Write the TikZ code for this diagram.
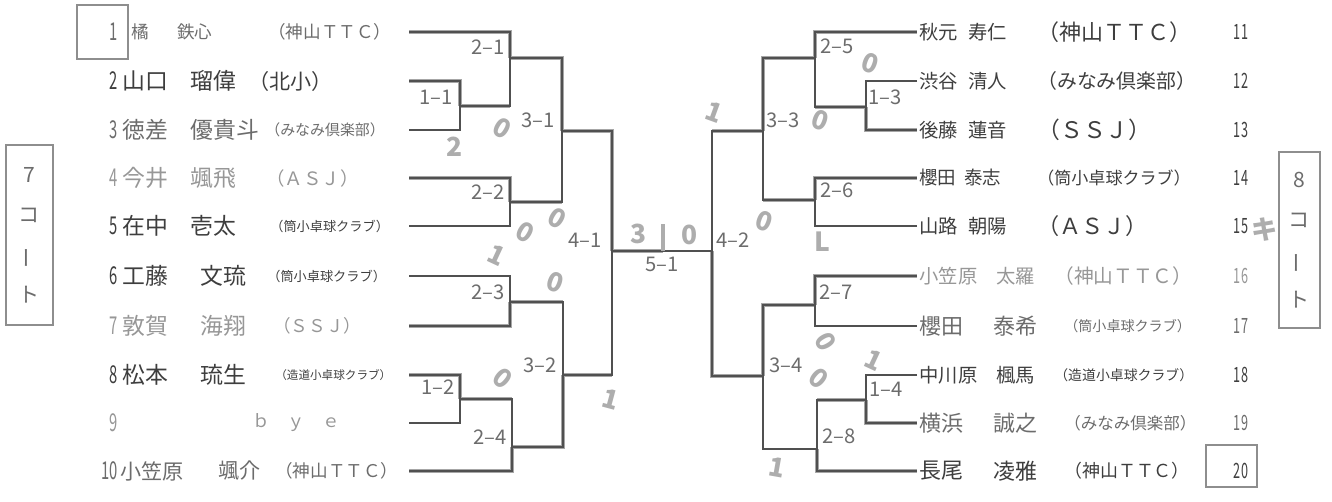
\documentclass[tikz,border=0pt]{standalone}
\usepackage{graphicx}
\usepackage{fontspec}
\setmainfont{Noto Sans CJK JP}
\usetikzlibrary{positioning}
\definecolor{inkdark}{HTML}{3E3E3E}
\definecolor{inkmid}{HTML}{6C6C6C}
\definecolor{inklight}{HTML}{979797}
\definecolor{rulegray}{HTML}{505050}
\definecolor{hilite}{HTML}{A6A6A6}
\definecolor{pencil}{HTML}{ADADAD}
\definecolor{boxgray}{HTML}{8E8E8E}
\newcommand{\condensed}[1]{\scalebox{0.6}[1]{#1}}
\newcommand{\fs}[1]{\fontsize{#1}{#1}\selectfont}
\tikzset{
  bracket/.style={draw=rulegray, line width=0.8pt},
  winpath/.style={draw=hilite, line width=2.8pt},
  entry/.style={anchor=west, inner sep=0pt},
  seednum/.style={inner sep=0pt},
  matchno/.style={inner sep=0pt, text=inkmid, font=\fs{11.5}},
  handmark/.style={inner sep=0pt, text=pencil, font=\fs{15}\bfseries},
  courtbox/.style={draw=boxgray, line width=1.5pt, inner sep=0pt, align=center,
    text=inkmid, font=\fontsize{12}{22.8}\selectfont},
  seedbox/.style={draw=boxgray, line width=1.5pt, inner sep=0pt},
}
\begin{document}
\begin{tikzpicture}[x=0.02cm, y=-0.02cm]
  \useasboundingbox (0,0) rectangle (1332,502);

  % row ends
  \foreach \n/\y in {1/32,2/81,3/130,4/178,5/226,6/276,7/326,8/375,9/423,10/471}
    \coordinate (a\n) at (409,\y);
  \foreach \n/\y in {11/32,12/81,13/130,14/178,15/226,16/276,17/326,18/375,19/423,20/471}
    \coordinate (a\n) at (917,\y);

  % match points
  \coordinate (m11) at (460,106);
  \coordinate (m21) at (510,58);
  \coordinate (m22) at (510,202);
  \coordinate (m31) at (562,131);
  \coordinate (m23) at (510,302);
  \coordinate (m12) at (460,399);
  \coordinate (m24) at (512,447);
  \coordinate (m32) at (563,375);
  \coordinate (m41) at (612,251);
  \coordinate (fin) at (663,251);
  \coordinate (m42) at (712,251);
  \coordinate (m13) at (866,107);
  \coordinate (m25) at (815,58);
  \coordinate (m26) at (815,200);
  \coordinate (m33) at (763,131);
  \coordinate (m27) at (815,305);
  \coordinate (m14) at (866,400);
  \coordinate (m28) at (817,449);
  \coordinate (m34) at (763,376);

  % winners (pen marks) under the printed lines
  \foreach \p/\q in {a1/m21, a2/m11, m21/m31, a4/m22, m31/m41, a7/m23, a8/m12, a10/m24, m24/m32,
                     a11/m25, a13/m13, m25/m33, a14/m26, a16/m27, m27/m34, m34/m42, a19/m14, a20/m28}
    \draw[winpath] (\p) -| (\q);
  \foreach \p/\q in {m11/m21, m22/m31, m23/m32, m12/m24, m32/m41, m13/m25, m26/m33, m33/m42, m14/m28}
    \draw[winpath] (\p) -- (\p -| \q);
  \draw[winpath] (m41) -- (fin);

  \foreach \p/\q in {a1/m21, m11/m21, a2/m11, a3/m11, a4/m22, a5/m22, m21/m31, m22/m31,
                     a6/m23, a7/m23, a8/m12, a9/m12, m12/m24, a10/m24, m23/m32, m24/m32,
                     m31/m41, m32/m41,
                     a11/m25, m13/m25, a12/m13, a13/m13, a14/m26, a15/m26, m25/m33, m26/m33,
                     a16/m27, a17/m27, a18/m14, a19/m14, m14/m28, a20/m28, m27/m34, m28/m34,
                     m33/m42, m34/m42}
    \draw[bracket] (\p) -| (\q);
  \draw[bracket] (m41) -- (m42);

  % left players
  \foreach \n/\y/\ns/\sx/\sur/\gx/\giv/\ts/\tx/\team/\ink in {
      1/32/10/131/橘/177/鉄心/10/268/（神山ＴＴＣ）/inkmid,
      2/81/13/122/山口/190/瑠偉/12/248/（北小）/inkdark,
      3/130/13/122/徳差/190/優貴斗/8.5/265/（みなみ倶楽部）/inkmid,
      4/178/13/122/今井/190/颯飛/10.5/266/（ＡＳＪ）/inklight,
      5/226/13/122/在中/190/壱太/7.5/270/（筒小卓球クラブ）/inkdark,
      6/276/13/122/工藤/200/文琉/7.5/267/（筒小卓球クラブ）/inkdark,
      7/326/13/122/敦賀/200/海翔/10/273/（ＳＳＪ）/inklight,
      8/375/13/122/松本/200/琉生/6.6/275/（造道小卓球クラブ）/inkdark,
      10/471/12/120/小笠原/218/颯介/10/275/（神山ＴＴＣ）/inkmid} {
    \node[seednum, anchor=east, text=\ink, font=\fs{14}] (num\n) at (118,\y) {\condensed{\n}};
    \node[entry, text=\ink, font=\fs{\ns}] (sur\n) at (\sx,\y) {\sur};
    \node[entry, text=\ink, font=\fs{\ns}] (giv\n) at (\gx,\y) {\giv};
    \node[entry, text=\ink, font=\fs{\ts}] (team\n) at (\tx,\y) {\team};
  }
  \node[seednum, anchor=east, text=inklight, font=\fs{14}] (num9) at (118,423) {\condensed{9}};
  \node[entry, text=inklight, font=\fs{10}] (bye9) at (252,423) {ｂ　ｙ　ｅ};

  % right players
  \foreach \n/\y/\ns/\gx/\giv/\sur/\ts/\tx/\team/\ink in {
      11/32/11/968/寿仁/秋元/12.5/1037/（神山ＴＴＣ）/inkdark,
      12/81/11/968/清人/渋谷/11.3/1037/（みなみ倶楽部）/inkdark,
      13/130/11/968/蓮音/後藤/13/1037/（ＳＳＪ）/inkdark,
      14/178/10.5/964/泰志/櫻田/9.7/1037/（筒小卓球クラブ）/inkdark,
      15/226/11/968/朝陽/山路/12.6/1037/（ＡＳＪ）/inkdark,
      16/276/11/996/太羅/小笠原/11.2/1054/（神山ＴＴＣ）/inklight,
      17/326/12.5/993/泰希/櫻田/8/1064/（筒小卓球クラブ）/inkmid,
      18/375/11/996/楓馬/中川原/7.9/1054/（造道小卓球クラブ）/inkdark,
      19/423/12.5/993/誠之/横浜/9.4/1064/（みなみ倶楽部）/inkmid,
      20/471/12.5/993/凌雅/長尾/10.2/1064/（神山ＴＴＣ）/inkdark} {
    \node[entry, text=\ink, font=\fs{\ns}] (sur\n) at (919,\y) {\sur};
    \node[entry, text=\ink, font=\fs{\ns}] (giv\n) at (\gx,\y) {\giv};
    \node[entry, text=\ink, font=\fs{\ts}] (team\n) at (\tx,\y) {\team};
    \node[seednum, text=\ink, font=\fs{12}] (num\n) at (1241,\y) {\condensed{\n}};
  }

  % match numbers
  \foreach \m/\x/\y/\t in {l11/453/97/1--1, l21/505/47/2--1, l31/555/120/3--1, l22/505/192/2--2,
                           l41/602/240/4--1, l23/505/292/2--3, l32/557/365/3--2, l12/455/387/1--2,
                           l24/507/437/2--4}
    \node[matchno, anchor=east] (\m) at (\x,\y) {\t};
  \foreach \m/\x/\y/\t in {l42/716/240/4--2, l33/766/120/3--3, l25/820/46/2--5, l13/868/97/1--3,
                           l26/820/190/2--6, l27/819/292/2--7, l34/769/365/3--4, l14/869/389/1--4,
                           l28/822/436/2--8}
    \node[matchno, anchor=west] (\m) at (\x,\y) {\t};
  \node[matchno] (l51) at (662,264) {5--1};

  % courts and seed boxes
  \node[courtbox, minimum width=0.94cm, minimum height=3.6cm] (court7) at (29.5,235)
    {7\\コ\\\rotatebox[origin=c]{90}{ー}\\ト};
  \node[courtbox, minimum width=0.82cm, minimum height=3.52cm] (court8) at (1299.5,240)
    {8\\コ\\\rotatebox[origin=c]{90}{ー}\\ト};
  \node[seedbox, minimum width=1.02cm, minimum height=1.08cm] (seed1) at (102.5,32) {};
  \node[seedbox, minimum width=1.02cm, minimum height=0.84cm] (seed20) at (1231.5,466) {};

  % pencilled scores
  \foreach \t/\x/\y/\r [count=\k] in {0/502/128/-30, 2/455/147/0, 0/557/218/-30, 0/525/232/-30,
      1/497/255/-25, 0/555/282/-20, 0/503/378/-40, 1/611/399/-15, 3/639/234/0, 0/690/235/0,
      1/714/112/-20, 0/870/63/-20, 0/820/120/-20, 0/764/221/-20, L/822/242/0, 0/826/342/-60,
      0/819/378/-40, 1/874/360/-25, 1/777/467/-10, キ/1265/230/0}
    \node[handmark, rotate=\r] (hw\k) at (\x,\y) {\t};
  \draw[pencil, line width=1.8pt] (fin) -- ++(0,-27);
\end{tikzpicture}
\end{document}
